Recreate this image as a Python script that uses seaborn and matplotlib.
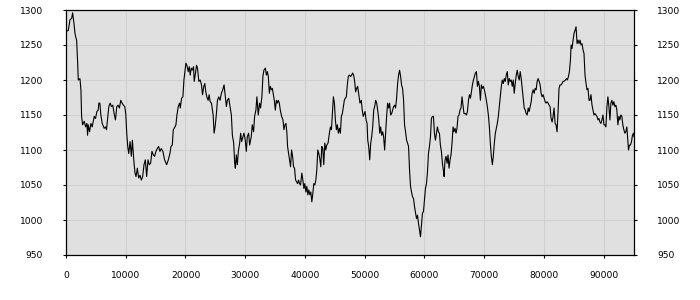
import numpy as np
import pandas as pd
import matplotlib
matplotlib.use("Agg")
import matplotlib.pyplot as plt
import seaborn as sns

# ---- data (x position, value) ----
x_a = [0, 389, 667, 944, 1111, 1333, 1500, 1611, 1778, 1944, 2056, 2333, 2500, 2611, 2778,
       3056, 3278, 3500, 3611, 3722, 3944, 4167, 4389, 4722, 4944, 5167, 5389, 5500, 5667, 5833,
       6056, 6389, 6611, 6778, 6944, 7167, 7389, 7611, 7833, 8056, 8278, 8500, 8722, 8944, 9167,
       9389, 9611, 9833, 10000, 10167, 10333, 10500, 10722, 10944, 11111, 11278, 11389, 11556, 11722, 11944,
       12167, 12389, 12611, 12833, 13056, 13278, 13500, 13722, 13944, 14167, 14389, 14611, 14833, 15056, 15278,
       15500, 15722, 15944, 16222, 16500]
v_a = [1269, 1271, 1286, 1288, 1296, 1281, 1267, 1262, 1257, 1226, 1200, 1202, 1186, 1148, 1136,
       1141, 1133, 1138, 1121, 1136, 1126, 1138, 1133, 1148, 1145, 1155, 1157, 1167, 1167, 1150,
       1138, 1131, 1133, 1129, 1143, 1162, 1167, 1162, 1164, 1152, 1143, 1162, 1164, 1160, 1171,
       1167, 1164, 1162, 1152, 1124, 1105, 1095, 1112, 1091, 1114, 1095, 1081, 1067, 1062, 1074,
       1060, 1064, 1057, 1062, 1079, 1086, 1062, 1086, 1079, 1081, 1098, 1093, 1091, 1098, 1102,
       1105, 1098, 1102, 1098, 1086]

x_b = [16850, 17130, 17400, 17570, 17790, 17960, 18240, 18400, 18570, 18790,
       19010, 19130, 19350, 19570, 19740, 19900, 20070, 20240, 20460, 20630,
       20790, 20960, 21130, 21350, 21460, 21680, 21850, 22010, 22240, 22460,
       22680, 22850, 23070, 23240, 23400, 23570, 23790, 23960, 24130, 24350,
       24630, 24790, 24960, 25180, 25350, 25570, 25790, 26010, 26240, 26460,
       26630, 26850, 27010, 27240, 27460, 27680, 27850, 28070, 28240, 28350,
       28510, 28680, 28850, 29070, 29240, 29400, 29570, 29790, 30010, 30180,
       30350, 30570, 30740, 31010, 31180, 31400, 31570, 31790, 31960, 32180,
       32400, 32570, 32790, 32960, 33130]
v_b = [1079, 1086, 1095, 1105, 1107, 1129, 1133, 1136, 1150, 1162,
       1167, 1160, 1174, 1176, 1200, 1212, 1224, 1221, 1212, 1219,
       1207, 1217, 1214, 1219, 1198, 1210, 1221, 1217, 1198, 1200,
       1193, 1179, 1191, 1195, 1183, 1176, 1171, 1179, 1169, 1167,
       1150, 1124, 1133, 1152, 1171, 1176, 1171, 1181, 1186, 1193,
       1179, 1162, 1171, 1174, 1162, 1150, 1121, 1110, 1081, 1074,
       1093, 1079, 1098, 1110, 1124, 1112, 1117, 1124, 1114, 1098,
       1119, 1124, 1107, 1119, 1136, 1126, 1148, 1157, 1176, 1150,
       1167, 1160, 1176, 1205, 1214]

x_c = [33370, 33540, 33710, 33870, 34040, 34210, 34370, 34540, 34710, 34870,
       35040, 35210, 35370, 35540, 35710, 35870, 36090, 36320, 36480, 36650,
       36820, 36980, 37090, 37260, 37430, 37590, 37760, 37930, 38090, 38260,
       38430, 38590, 38760, 38930, 39090, 39260, 39480, 39650, 39820, 39980,
       40150, 40320, 40480, 40650, 40820, 40980, 41150, 41320, 41480, 41650,
       41820, 41980, 42150, 42320, 42480, 42650, 42820, 42980, 43150, 43320,
       43480, 43650, 43870, 44090, 44260, 44430, 44590, 44760, 44930, 45090,
       45260, 45430, 45590, 45760, 45930, 46090, 46260, 46430, 46590, 46760,
       46930, 47090, 47260, 47430, 47650, 47820, 47980, 48150, 48320, 48480,
       48650, 48820, 48980, 49210, 49430, 49590, 49760]
v_c = [1217, 1207, 1212, 1205, 1181, 1191, 1186, 1188, 1179, 1171,
       1157, 1171, 1167, 1171, 1167, 1157, 1148, 1143, 1129, 1136,
       1138, 1124, 1105, 1095, 1086, 1076, 1100, 1091, 1076, 1074,
       1057, 1055, 1052, 1057, 1052, 1050, 1067, 1057, 1045, 1052,
       1040, 1048, 1036, 1043, 1036, 1040, 1026, 1038, 1052, 1050,
       1057, 1071, 1100, 1095, 1088, 1076, 1105, 1102, 1079, 1110,
       1100, 1107, 1110, 1124, 1133, 1129, 1152, 1176, 1167, 1143,
       1129, 1136, 1124, 1131, 1124, 1148, 1152, 1162, 1171, 1174,
       1176, 1193, 1205, 1207, 1205, 1207, 1210, 1207, 1198, 1183,
       1188, 1191, 1181, 1167, 1171, 1157, 1148]

x_d = [50060, 50230, 50400, 50510, 50670, 50840, 51010, 51170, 51340, 51510,
       51670, 51840, 52010, 52170, 52340, 52510, 52670, 52840, 53010, 53170,
       53340, 53510, 53670, 53840, 54010, 54170, 54340, 54510, 54670, 54840,
       55010, 55170, 55340, 55510, 55670, 55840, 56010, 56170, 56340, 56510,
       56670, 56840, 57010, 57170, 57340, 57510, 57670, 57840, 58010, 58170,
       58340, 58510, 58670, 58840, 59010, 59170, 59340, 59510, 59670, 59840,
       60010, 60170, 60340, 60510, 60670, 60840, 61010, 61170, 61340, 61510,
       61670, 61840, 62010, 62170, 62340, 62510, 62670, 62840, 63010, 63170,
       63290, 63450, 63620, 63790, 63950, 64120, 64290, 64450, 64620, 64790,
       64950, 65120, 65290, 65450, 65620, 65790, 65950, 66120, 66290, 66450,
       66620]
v_d = [1155, 1143, 1138, 1114, 1105, 1086, 1110, 1119, 1133, 1157,
       1162, 1171, 1167, 1157, 1145, 1124, 1133, 1121, 1126, 1119,
       1100, 1124, 1148, 1167, 1160, 1167, 1150, 1152, 1157, 1162,
       1164, 1160, 1174, 1195, 1207, 1214, 1205, 1193, 1188, 1171,
       1136, 1126, 1114, 1110, 1105, 1071, 1048, 1040, 1033, 1031,
       1019, 1010, 1002, 1007, 995, 986, 976, 993, 1010, 1012,
       1029, 1045, 1052, 1069, 1095, 1105, 1119, 1145, 1148, 1148,
       1124, 1114, 1124, 1133, 1126, 1124, 1107, 1098, 1081, 1071,
       1062, 1086, 1091, 1081, 1093, 1074, 1086, 1093, 1110, 1133,
       1126, 1131, 1124, 1131, 1148, 1150, 1157, 1160, 1176, 1164,
       1152]

x_e = [66870, 67030, 67200, 67370, 67530, 67700, 67870, 68030, 68200, 68370,
       68530, 68700, 68870, 69030, 69200, 69370, 69530, 69700, 69870, 70030,
       70200, 70370, 70530, 70700, 70870, 71030, 71200, 71370, 71530, 71700,
       71870, 72030, 72200, 72370, 72530, 72700, 72870, 73030, 73200, 73370,
       73530, 73700, 73870, 74030, 74200, 74370, 74530, 74700, 74870, 75030,
       75200, 75370, 75530, 75700, 75870, 76030, 76200, 76370, 76530, 76700,
       76870, 77030, 77200, 77370, 77530, 77700, 77870, 78030, 78200, 78370,
       78530, 78700, 78870, 79030, 79200, 79370, 79530, 79700, 79870, 80030,
       80200, 80370, 80530, 80700, 80870, 81030, 81200, 81370, 81530, 81700,
       81870, 82030, 82200, 82370, 82530, 82700, 82870, 83030, 83200, 83370]
v_e = [1152, 1150, 1155, 1171, 1179, 1174, 1183, 1193, 1200, 1205,
       1210, 1212, 1191, 1198, 1191, 1171, 1193, 1188, 1191, 1186,
       1179, 1171, 1162, 1150, 1133, 1110, 1091, 1079, 1091, 1110,
       1124, 1131, 1138, 1148, 1162, 1176, 1191, 1200, 1195, 1202,
       1198, 1207, 1212, 1193, 1202, 1198, 1200, 1191, 1200, 1181,
       1195, 1207, 1214, 1205, 1200, 1212, 1202, 1188, 1174, 1160,
       1157, 1152, 1150, 1160, 1155, 1162, 1169, 1181, 1186, 1181,
       1188, 1186, 1198, 1202, 1198, 1193, 1181, 1176, 1179, 1174,
       1169, 1167, 1169, 1167, 1164, 1162, 1145, 1140, 1148, 1160,
       1138, 1136, 1126, 1155, 1188, 1193, 1193, 1195, 1198, 1198]

x_f = [83600, 83770, 83940, 84100, 84270, 84440, 84550, 84710, 84880, 85050,
       85210, 85380, 85550, 85710, 85880, 86050, 86210, 86380, 86550, 86710,
       86880, 87050, 87210, 87380, 87550, 87710, 87880, 88050, 88210, 88380,
       88550, 88710, 88880, 89050, 89210, 89380, 89550, 89710, 89880, 90050,
       90210, 90380, 90550, 90710, 90880, 91050, 91210, 91380, 91550, 91710,
       91880, 92050, 92210, 92380, 92550, 92710, 92880, 93050, 93210, 93380,
       93550, 93710, 93880, 94050, 94160, 94320, 94490, 94660, 94820, 94990,
       95080]
v_f = [1200, 1202, 1200, 1205, 1212, 1229, 1250, 1245, 1257, 1267,
       1271, 1276, 1252, 1257, 1252, 1257, 1250, 1252, 1243, 1238,
       1207, 1195, 1186, 1188, 1171, 1171, 1179, 1164, 1157, 1150,
       1152, 1150, 1148, 1143, 1145, 1140, 1138, 1143, 1150, 1136,
       1136, 1133, 1162, 1176, 1162, 1143, 1167, 1171, 1164, 1169,
       1162, 1164, 1157, 1136, 1148, 1143, 1150, 1148, 1136, 1129,
       1124, 1126, 1133, 1114, 1100, 1107, 1107, 1112, 1121, 1124,
       1119]

x_ticks = [0, 10000, 20000, 30000, 40000, 50000, 60000, 70000, 80000, 90000]
y_ticks = [950, 1000, 1050, 1100, 1150, 1200, 1250, 1300]

segments = [(x_a, v_a), (x_b, v_b), (x_c, v_c), (x_d, v_d), (x_e, v_e), (x_f, v_f)]
for xs, vs in segments:
    assert len(xs) == len(vs), (len(xs), len(vs))
xs_all = sum([s[0] for s in segments], [])
vs_all = sum([s[1] for s in segments], [])
df = pd.DataFrame({"x": xs_all, "value": vs_all})

# ---- figure ----
sns.set_style("white")
plt.rcParams["font.family"] = ["DejaVu Sans"]

fig = plt.figure(figsize=(7, 3), dpi=100)
ax = fig.add_axes([66 / 700, 45 / 300, 568 / 700, 245 / 300])
ax.set_facecolor("#e0e0e0")

sns.lineplot(data=df, x="x", y="value", ax=ax, color="black", linewidth=0.8,
             estimator=None, sort=True, zorder=3)

ax.set_xlim(0, 95080)
ax.set_ylim(950, 1300)
ax.set_xticks(x_ticks)
ax.set_yticks(y_ticks)
ax.set_xticklabels([str(t) for t in x_ticks])
ax.set_yticklabels([str(t) for t in y_ticks])
ax.grid(True, color="#d0d0d0", linewidth=0.8, zorder=0)
ax.set_axisbelow(True)
ax.set_xlabel("")
ax.set_ylabel("")

for sp in ax.spines.values():
    sp.set_visible(True)
    sp.set_color("black")
    sp.set_linewidth(0.9)

ax.tick_params(axis="x", which="both", bottom=True, top=False, direction="out",
               length=2.5, width=0.8, color="black", labelsize=6.6, labelcolor="black", pad=9)
ax.tick_params(axis="y", which="both", left=True, right=True, labelleft=True, labelright=True,
               direction="out", length=2.5, width=0.8, color="black", labelsize=6.6,
               labelcolor="black", pad=14)
for lab in ax.get_yticklabels(which="both"):
    pass

fig.savefig("out.png", dpi=100, facecolor="white")
